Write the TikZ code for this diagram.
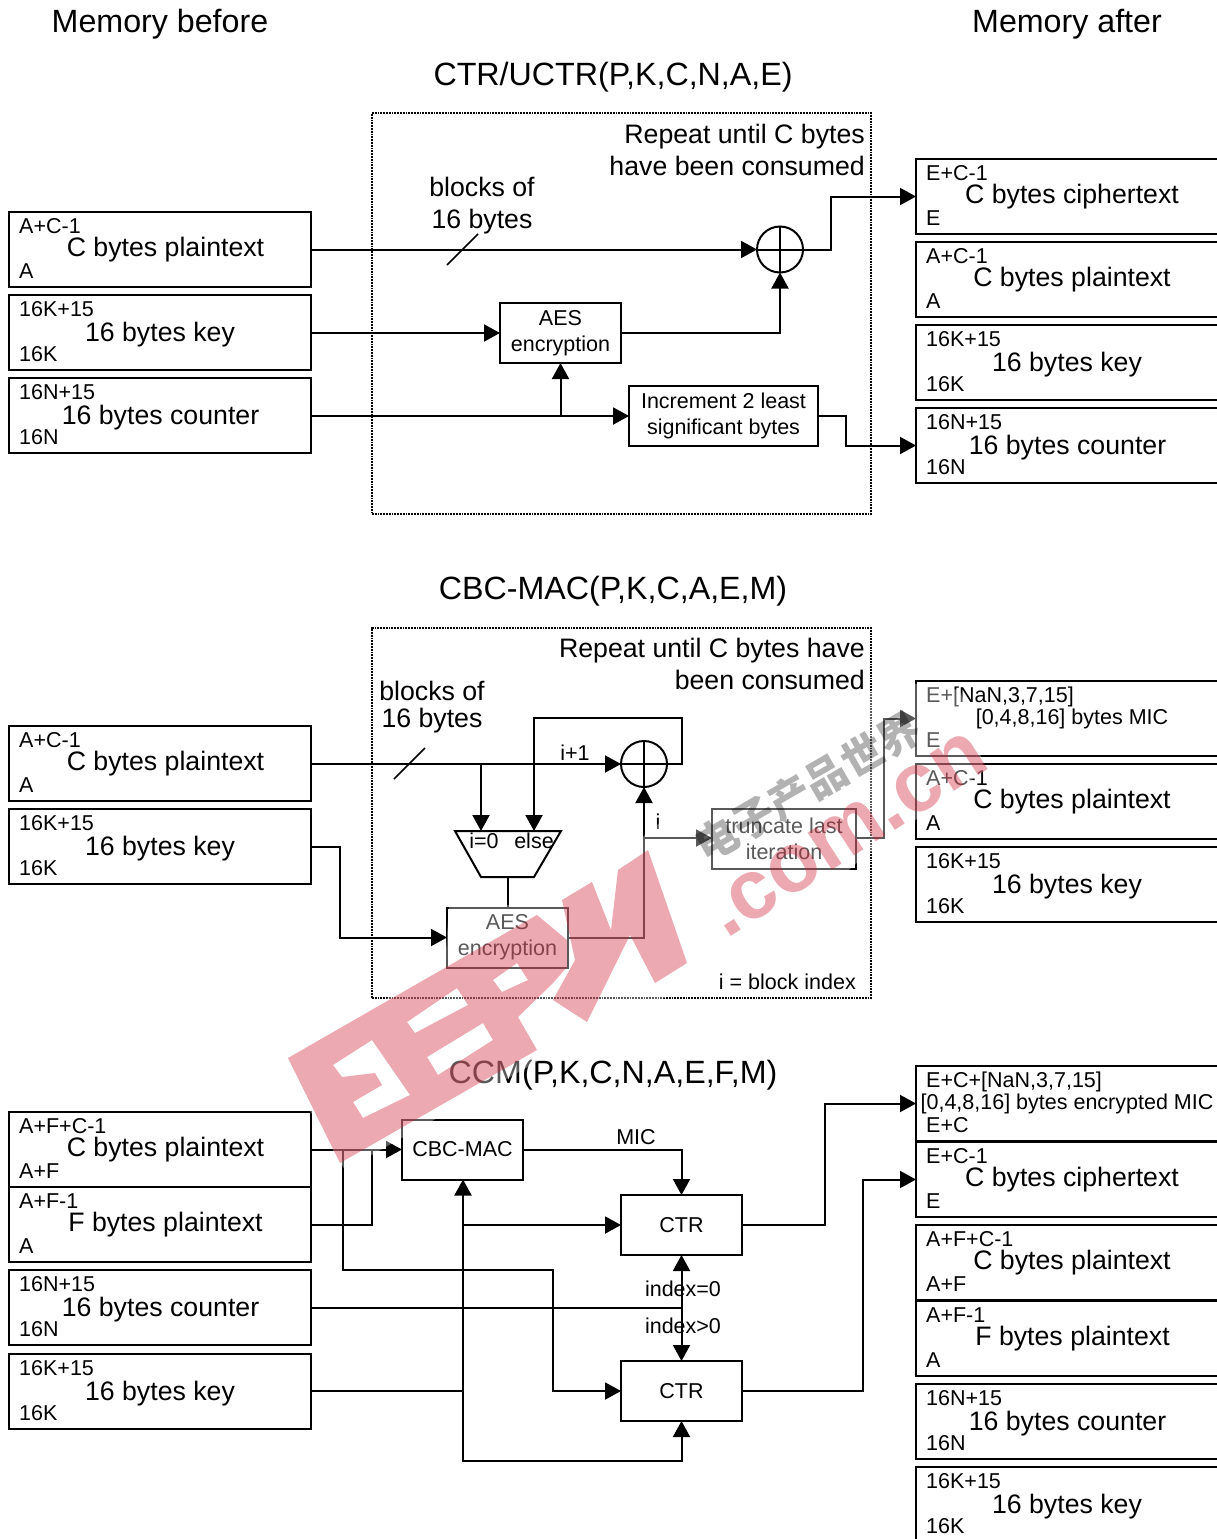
\documentclass[tikz,border=0pt]{standalone}
\usepackage{fontspec}
\setmainfont{Liberation Sans}
\newfontfamily\cjkmark{Noto Sans CJK SC}
\usetikzlibrary{arrows.meta}
\definecolor{stamp}{RGB}{205,30,50}
\newcommand{\labelsize}{\fontsize{21.5}{26}\selectfont}
\newcommand{\bodysize}{\fontsize{26.7}{32}\selectfont}
\newcommand{\headsize}{\fontsize{32.2}{38}\selectfont}
\tikzset{
  memcell/.style={draw,line width=2.2pt,rectangle,minimum height=75pt,inner sep=0pt,outer sep=0pt,anchor=north west},
  opbox/.style={draw,line width=2pt,rectangle,minimum width=121pt,minimum height=60pt,inner sep=0pt,outer sep=0pt,align=center,font=\labelsize},
  xorgate/.style={draw,line width=2pt,circle,minimum size=46pt,inner sep=0pt,outer sep=0pt},
  flow/.style={line width=2pt,-{Triangle[length=16pt,width=17pt]}},
  wire/.style={line width=2pt},
  loopbox/.style={draw,line width=1.8pt,densely dotted,outer sep=0pt,anchor=north west},
  small/.style={font=\labelsize,inner sep=0pt,anchor=base},
  body/.style={font=\bodysize,inner sep=0pt,anchor=base},
  heading/.style={font=\headsize,inner sep=0pt,anchor=base},
  stampfill/.style={fill=stamp,fill opacity=0.38,even odd rule},
  stampmark/.style={text=stamp,text opacity=0.38,inner sep=0pt}
}
\newcommand{\memblock}[9][302pt]{%
  \node[memcell,minimum width=#1] (#2) at (#3,#4) {};
  \node[small,anchor=base west] (#2top) at (#3+10,#4+21) {#5};
  \node[body] (#2main) at (#6,#4+#7) {#8};
  \node[small,anchor=base west] (#2low) at (#3+10,#4+66) {#9};
}
\begin{document}
\begin{tikzpicture}[x=1pt,y=-1pt]
\clip (0,0) rectangle (1217,1539);
\node[heading] (before) at (160,32) {Memory before};
\node[heading] (after) at (1067,32) {Memory after};

\node[heading] (ctrtitle) at (613,85) {CTR/UCTR(P,K,C,N,A,E)};
\node[loopbox,minimum width=499pt,minimum height=401pt] (loopA) at (372,113) {};
\node[body,anchor=base east] (repA) at (865,143) {Repeat until C bytes};
\node[body,anchor=base east] (repB) at (865,175) {have been consumed};
\node[body] (blkA) at (482,196) {blocks of};
\node[body] (blkB) at (482,228) {16 bytes};
\memblock{plainA}{9}{212}{A+C-1}{165.5}{44.5}{C bytes plaintext}{A}
\memblock{keyA}{9}{295}{16K+15}{160}{46.5}{16 bytes key}{16K}
\memblock{ctrA}{9}{378}{16N+15}{160.5}{46.5}{16 bytes counter}{16N}
\memblock[310pt]{cipherB}{916}{159}{E+C-1}{1072}{44}{C bytes ciphertext}{E}
\memblock[310pt]{plainB}{916}{242}{A+C-1}{1072}{44.5}{C bytes plaintext}{A}
\memblock[310pt]{keyB}{916}{325}{16K+15}{1067}{46.5}{16 bytes key}{16K}
\memblock[310pt]{ctrB}{916}{408}{16N+15}{1067.5}{46.5}{16 bytes counter}{16N}
\node[xorgate] (xorA) at (780,249.5) {};
\draw[wire] (xorA.north) -- (xorA.south) (xorA.west) -- (xorA.east);
\node[opbox] (aesA) at (560.5,333) {AES\\encryption};
\node[opbox,minimum width=189pt] (incA) at (723.5,416) {Increment 2 least\\significant bytes};
\coordinate (slashA) at (447,265);
\coordinate (slashB) at (478,234);
\draw[line width=1.6pt] (slashA) -- (slashB);
\draw[flow] (plainA.east |- xorA.west) -- (xorA.west);
\draw[flow] (xorA.east) -- ++(28,0) |- (cipherB.west);
\draw[flow] (keyA.east |- aesA.west) -- (aesA.west);
\draw[flow] (aesA.east) -| (xorA.south);
\draw[flow] (ctrA.east |- incA.west) -- (incA.west);
\draw[flow] (aesA.south |- incA.west) -- (aesA.south);
\draw[flow] (incA.east) -- ++(28,0) |- (ctrB.west);

\node[heading] (cbctitle) at (613,599) {CBC-MAC(P,K,C,A,E,M)};
\node[loopbox,minimum width=499pt,minimum height=370pt] (loopB) at (372,628) {};
\node[body,anchor=base east] (repC) at (865,657) {Repeat until C bytes have};
\node[body,anchor=base east] (repD) at (865,689) {been consumed};
\node[body] (blkC) at (432,700) {blocks of};
\node[body] (blkD) at (432,727) {16 bytes};
\node[small,anchor=base east] (idx) at (856,989) {i = block index};
\memblock{plainC}{9}{726}{A+C-1}{165.5}{44.5}{C bytes plaintext}{A}
\memblock{keyC}{9}{809}{16K+15}{160}{46.5}{16 bytes key}{16K}
\memblock[310pt]{macD}{916}{681}{E+[NaN,3,7,15]}{1072}{44.5}{}{E}
\node[small] (macDmain) at (1072,724) {[0,4,8,16] bytes MIC};
\memblock[310pt]{plainD}{916}{764}{A+C-1}{1072}{44.5}{C bytes plaintext}{A}
\memblock[310pt]{keyD}{916}{847}{16K+15}{1067}{46.5}{16 bytes key}{16K}
\node[xorgate] (xorC) at (644,764) {};
\draw[wire] (xorC.north) -- (xorC.south) (xorC.west) -- (xorC.east);
\coordinate (muxTL) at (455,831);
\coordinate (muxTR) at (561,831);
\coordinate (muxBR) at (534,877);
\coordinate (muxBL) at (481,877);
\coordinate (muxout) at (508,877);
\draw[wire] (muxTL) -- (muxTR) -- (muxBR) -- (muxBL) -- cycle;
\node[small] (muxa) at (484,848) {i=0};
\node[small] (muxb) at (534,848) {else};
\node[opbox] (aesC) at (507.5,937.5) {AES\\encryption};
\node[opbox,minimum width=144pt] (trunc) at (784,839) {truncate last\\iteration};
\node[small] (iplus) at (575,760) {i+1};
\node[small] (iout) at (658,829) {i};
\coordinate (slashC) at (394,779);
\coordinate (slashD) at (425,748);
\coordinate (muxinA) at (481,764);
\coordinate (muxinB) at (534,718);
\coordinate (loopturn) at (682,718);
\coordinate (tapC) at (644,838);
\draw[line width=1.6pt] (slashC) -- (slashD);
\draw[flow] (plainC.east |- xorC.west) -- (xorC.west);
\draw[flow] (muxinA) -- (muxinA |- muxTL);
\draw[flow] (xorC.east) -| (loopturn) -- (muxinB) -- (muxinB |- muxTL);
\draw[wire] (muxout) -- (aesC.north -| muxout);
\draw[flow] (keyC.east) -- ++(29,0) |- (aesC.west);
\draw[flow] (aesC.east) -| (xorC.south);
\draw[flow] (tapC) -- (tapC -| trunc.west);
\draw[flow] (tapC -| trunc.east) -- ++(28,0) |- (macD.west);

\node[heading] (ccmtitle) at (613,1083) {CCM(P,K,C,N,A,E,F,M)};
\memblock{plainE}{9}{1112}{A+F+C-1}{165.5}{44.5}{C bytes plaintext}{A+F}
\memblock{plainF}{9}{1187}{A+F-1}{165.5}{44.5}{F bytes plaintext}{A}
\memblock{ctrE}{9}{1270}{16N+15}{160.5}{46.5}{16 bytes counter}{16N}
\memblock{keyE}{9}{1354}{16K+15}{160}{46.5}{16 bytes key}{16K}
\memblock[310pt]{micG}{916}{1066}{E+C+[NaN,3,7,15]}{1067}{44.5}{}{E+C}
\node[small] (micGmain) at (1067,1109) {[0,4,8,16] bytes encrypted MIC};
\memblock[310pt]{cipherG}{916}{1142}{E+C-1}{1072}{44}{C bytes ciphertext}{E}
\memblock[310pt]{plainG}{916}{1225}{A+F+C-1}{1072}{44.5}{C bytes plaintext}{A+F}
\memblock[310pt]{plainH}{916}{1301}{A+F-1}{1072.5}{44.5}{F bytes plaintext}{A}
\memblock[310pt]{ctrG}{916}{1384}{16N+15}{1067.5}{46.5}{16 bytes counter}{16N}
\memblock[310pt]{keyG}{916}{1467}{16K+15}{1067}{46.5}{16 bytes key}{16K}
\node[opbox] (cbc) at (462.5,1149.5) {CBC-MAC};
\node[opbox] (ctrU) at (681.5,1225) {CTR};
\node[opbox] (ctrL) at (681.5,1391) {CTR};
\node[small] (mic) at (636,1144) {MIC};
\node[small] (idxa) at (683,1296) {index=0};
\node[small] (idxb) at (683,1333) {index>0};
\coordinate (tapE) at (343,1149.5);
\coordinate (turnE) at (553,1270);
\coordinate (joinK) at (463,1391);
\coordinate (joinN) at (681.5,1308);
\coordinate (turnK) at (463,1461);
\coordinate (joinF) at (372,1149.5);
\draw[flow] (plainE.east |- cbc.west) -- (cbc.west);
\draw[wire] (plainF.east |- ctrU.west) -| (joinF);
\draw[flow] (tapE) |- (turnE) |- (ctrL.west);
\draw[flow] (cbc.east) -| (ctrU.north);
\draw[wire] (keyE.east |- ctrL.west) -- (joinK);
\draw[flow] (joinK) -- (cbc.south -| joinK);
\draw[flow] (joinK |- ctrU.west) -- (ctrU.west);
\draw[flow] (joinK) -- (turnK) -| (ctrL.south);
\draw[wire] (ctrE.east |- joinN) -- (joinN);
\draw[flow] (joinN) -- (ctrU.south);
\draw[flow] (joinN) -- (ctrL.north);
\draw[flow] (ctrU.east) -- ++(83,0) |- (micG.west);
\draw[flow] (ctrL.east) -- ++(121,0) |- (cipherG.west);

\fill[white,fill opacity=0.35] (280,1060) -- (445,965) -- (449,905) -- (570,905) -- (645,835) -- (700,790) -- (890,680) -- (960,690) -- (985,770) -- (860,860) -- (760,950) -- (540,1060) -- (345,1170) -- cycle;
\fill[stampfill] (288,1058) -- (537,915) -- (567,940) -- (567,967) -- (553,983) -- (518,1017) -- (537,1050) -- (340,1163) -- cycle
  (493,980) -- (517,963) -- (528,980) -- (502,992) -- cycle
  (407,1022) -- (457,988) -- (468,1005) -- (415,1033) -- cycle
  (427,1057) -- (483,1023) -- (493,1040) -- (438,1075) -- cycle
  (333,1065) -- (372,1040) -- (410,1095) -- (363,1118) -- (353,1102) -- (382,1085) -- (375,1073) -- (342,1077) -- cycle;
\fill[stampfill] (562,900) -- (592,882) -- (611,930) -- (618,870) -- (648,850) -- (687,963) -- (655,983) -- (630,935) -- (587,1022) -- (553,1000) -- (575,960) -- cycle;
\node[stampmark,rotate=33,anchor=base west,font=\fontsize{84}{84}\bfseries\selectfont] (dotcom) at (726,940) {.com.cn};
\node[rotate=30,text=black,text opacity=0.3,font=\cjkmark\fontsize{42}{42}\bfseries\selectfont,inner sep=0pt] (cnmark) at (808,787) {电子产品世界};
\end{tikzpicture}
\end{document}
